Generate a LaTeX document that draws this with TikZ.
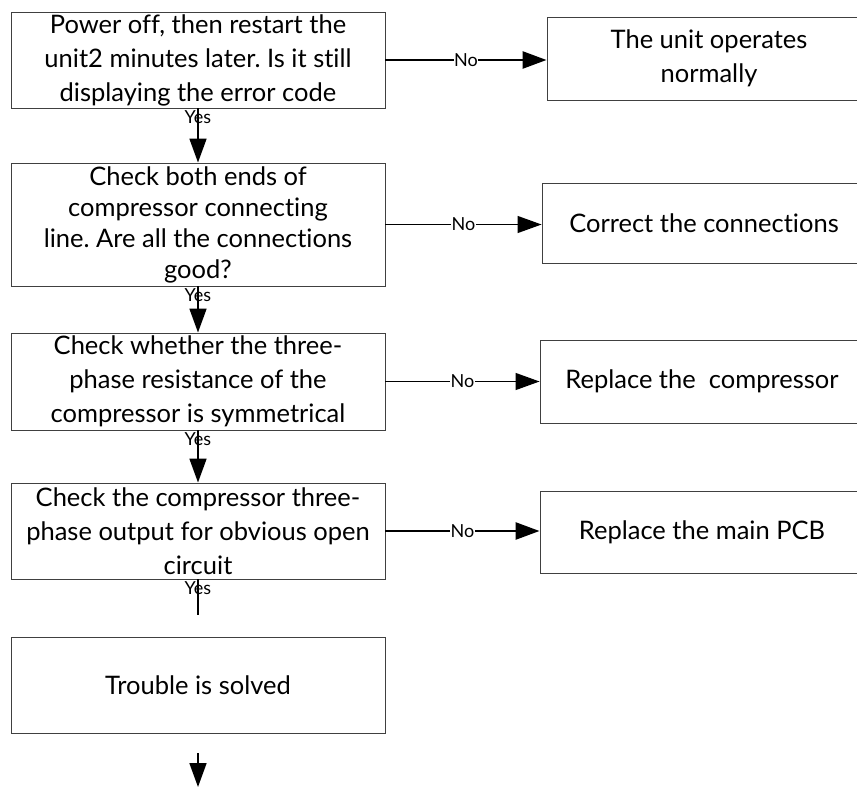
\documentclass[tikz,border=0pt]{standalone}
\usepackage{fontspec}
\setmainfont{Lato}[Ligatures=NoCommon]
\usetikzlibrary{arrows.meta}
\frenchspacing

\begin{document}
\begin{tikzpicture}[x=1pt,y=-1pt,
  box/.style={draw=black!75,line width=0.9pt,align=center,inner sep=2pt,
    font=\fontsize{25.5}{34}\selectfont},
  qbox/.style={box,minimum width=374pt},
  rbox/.style={box,minimum width=324pt},
  flow/.style={line width=1.3pt,-{Triangle[length=24pt,width=17pt]}},
  boldflow/.style={flow,line width=2.6pt},
  yesflow/.style={flow,line width=1.8pt},
  nolbl/.style={fill=white,inner sep=0.6pt,font=\fontsize{18}{18}\selectfont},
  yeslbl/.style={anchor=north,inner sep=1pt,font=\fontsize{18}{18}\selectfont}]
   \useasboundingbox (0,0) rectangle (857,787);
   \clip (0,0) rectangle (857,787);

    % question boxes on the left
    \node[qbox,minimum height=96pt] (q1) at (198,60)
      {Power off, then restart the\\unit2 minutes later. Is it still\\displaying the error code};
    \node[qbox,minimum height=123pt,inner ysep=0pt,font=\fontsize{25.5}{31}\selectfont] (q2) at (198,224.5)
      {Check both ends of\\compressor connecting\\line. Are all the connections\\good?};
    \node[qbox,minimum height=97pt] (q3) at (198,381.5)
      {Check whether the three-\\phase resistance of the\\compressor is symmetrical};
    \node[qbox,minimum height=96pt] (q4) at (198,531)
      {Check the compressor three-\\phase output for obvious open\\circuit};
    \node[qbox,minimum height=96pt] (q5) at (198,685) {Trouble is solved};

    % result boxes on the right
    \node[rbox,minimum height=83pt] (r1) at (709,58.5) {The unit operates\\normally};
    \node[rbox,minimum height=80pt] (r2) at (704,223) {Correct the connections};
    \node[rbox,minimum height=83pt] (r3) at (702,381.5) {Replace the \ compressor};
    \node[rbox,minimum height=82pt] (r4) at (702,532) {Replace the main PCB};

    \coordinate (cut) at (198,615);
    \coordinate (tail) at (198,753);
    \coordinate (tip) at (198,787);

    % No branches
    \draw[boldflow] (q1.east) -- node[nolbl,pos=0.5]{No} (q1.east -| r1.west);
    \draw[flow] (q2.east) -- node[nolbl,pos=0.5]{No} (q2.east -| r2.west);
    \draw[flow] (q3.east) -- node[nolbl,pos=0.5]{No} (q3.east -| r3.west);
    \draw[boldflow] (q4.east) -- node[nolbl,pos=0.5]{No} (q4.east -| r4.west);

    % Yes branches
    \draw[yesflow] (q1.south) -- node[yeslbl,pos=0]{Yes} (q2.north);
    \draw[yesflow] (q2.south) -- node[yeslbl,pos=0]{Yes} (q3.north);
    \draw[yesflow] (q3.south) -- node[yeslbl,pos=0]{Yes} (q4.north);
    \draw[line width=1.8pt] (q4.south) -- node[yeslbl,pos=0]{Yes} (cut);
    \draw[yesflow] (tail) -- (tip);

\end{tikzpicture}
\end{document}
